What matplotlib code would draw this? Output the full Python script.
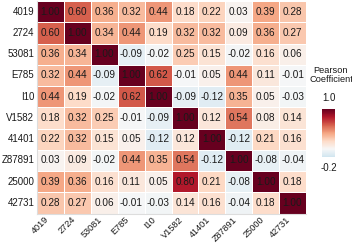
import numpy as np
import matplotlib
matplotlib.use("Agg")
import matplotlib.pyplot as plt
import seaborn as sns

labels = ["4019", "2724", "53081", "E785", "I10", "V1582", "41401", "Z87891", "25000", "42731"]

row_4019 = [1.00, 0.60, 0.36, 0.32, 0.44, 0.18, 0.22, 0.03, 0.39, 0.28]
row_2724 = [0.60, 1.00, 0.34, 0.44, 0.19, 0.32, 0.32, 0.09, 0.36, 0.27]
row_53081 = [0.36, 0.34, 1.00, -0.09, -0.02, 0.25, 0.15, -0.02, 0.16, 0.06]
row_E785 = [0.32, 0.44, -0.09, 1.00, 0.62, -0.01, 0.05, 0.44, 0.11, -0.01]
row_I10 = [0.44, 0.19, -0.02, 0.62, 1.00, -0.09, -0.12, 0.35, 0.05, -0.03]
row_V1582 = [0.18, 0.32, 0.25, -0.01, -0.09, 1.00, 0.12, 0.54, 0.08, 0.14]
row_41401 = [0.22, 0.32, 0.15, 0.05, -0.12, 0.12, 1.00, -0.12, 0.21, 0.16]
row_Z87891 = [0.03, 0.09, -0.02, 0.44, 0.35, 0.54, -0.12, 1.00, -0.08, -0.04]
row_25000 = [0.39, 0.36, 0.16, 0.11, 0.05, 0.80, 0.21, -0.08, 1.00, 0.18]
row_42731 = [0.28, 0.27, 0.06, -0.01, -0.03, 0.14, 0.16, -0.04, 0.18, 1.00]

matrix = np.array([row_4019, row_2724, row_53081, row_E785, row_I10,
                   row_V1582, row_41401, row_Z87891, row_25000, row_42731])

vmin, vmax = -0.2, 1.0

plt.rcParams['font.family'] = ['Liberation Sans', 'DejaVu Sans']

fig = plt.figure(figsize=(3.52, 2.44), dpi=100)
ax = fig.add_axes([37/352, 1 - 213.5/244, 269/352, 212.5/244])
cax = fig.add_axes([322/352, 1 - 157/244, 13/352, 48/244])

sns.heatmap(matrix, ax=ax, cbar_ax=cax, cmap="RdBu_r", vmin=vmin, vmax=vmax, center=0,
            annot=True, fmt=".2f", annot_kws={"size": 7.2, "color": "#1a1a1a"},
            linewidths=0.7, linecolor="white",
            xticklabels=labels, yticklabels=labels)

ax.tick_params(axis='y', length=0, labelsize=7, colors="#1a1a1a", pad=2)
ax.tick_params(axis='x', length=0, labelsize=6.6, colors="#1a1a1a", pad=1)
plt.setp(ax.get_xticklabels(), rotation=45, ha="right")
plt.setp(ax.get_yticklabels(), rotation=0)
for side in ["bottom", "left"]:
    ax.spines[side].set_visible(True)
    ax.spines[side].set_color("#dddddd")
    ax.spines[side].set_linewidth(0.8)

cb = ax.collections[0].colorbar
cb.set_ticks([])
cb.outline.set_visible(False)
cax.tick_params(length=0)

fig.text(331/352, 1 - 75/244, "Pearson\nCoefficient", ha="center", va="center",
         fontsize=6.7, color="#1a1a1a", linespacing=1.0)
fig.text(329/352, 1 - 98/244, "1.0", ha="center", va="center", fontsize=7, color="#1a1a1a")
fig.text(329/352, 1 - 168/244, "-0.2", ha="center", va="center", fontsize=7, color="#1a1a1a")

fig.savefig("out.png", dpi=100)
